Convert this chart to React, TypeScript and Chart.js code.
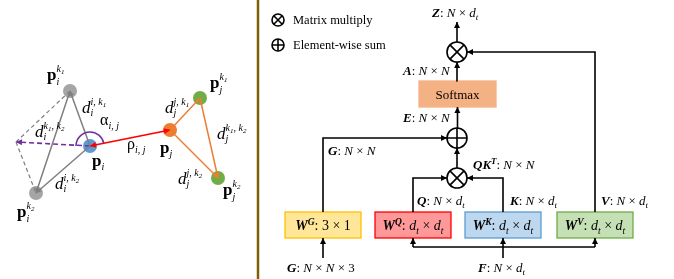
import React, { useEffect, useRef } from 'react';
import { Chart, registerables } from 'chart.js';
Chart.register(...registerables);

const W = 674;
const H = 279;
const SERIF = '"Liberation Serif", "Times New Roman", serif';

// ---------- left: relation graph ----------
const nodeNames = ['p_i', 'p_i^k1', 'p_i^k2', 'p_j', 'p_j^k1', 'p_j^k2', 'virtual'];
const nodeX = [90, 70, 36, 170, 200, 218, 16];
const nodeY = [146, 91, 193, 130, 98, 178, 142];
const nodeColor = ['#5B9BD5', '#A5A5A5', '#A5A5A5', '#ED7D31', '#70AD47', '#70AD47', 'rgba(0,0,0,0)'];
const nodeRadius = [7, 7, 7, 7, 7, 7, 0];

const grayEdges = [[0, 1], [0, 2], [1, 2]];
const grayDashEdges = [[6, 1], [6, 2]];
const orangeEdges = [[3, 4], [3, 5], [4, 5]];
const purpleEdge = [0, 6];
const redEdge = [0, 3];

const leftLabelKey = ['pik1', 'dik1', 'alpha', 'dik1k2', 'pi', 'rho', 'dik2', 'pik2', 'djk1', 'pjk1', 'djk1k2', 'pj', 'djk2', 'pjk2'];
const leftLabelX = [47, 82, 100, 35, 92, 127, 55, 17, 165, 210, 217, 160, 178, 223];
const leftLabelY = [80, 113, 125, 137, 166, 149, 189, 217, 113, 88, 139, 153, 184, 195];

// ---------- right: attention block ----------
const separatorX = 258;
const boxNames = ['Softmax', 'G', 'Q', 'K', 'V'];
const boxX0 = [419, 285, 375, 465, 557];
const boxX1 = [496, 361, 451, 541, 633];
const boxY0 = [81, 212, 212, 212, 212];
const boxY1 = [107, 238, 238, 238, 238];
const boxDims = ['', '3×1', 'd×d', 'd×d', 'd×d'];
const boxFill = ['#F4B183', '#FFE699', '#FF9999', '#BDD7EE', '#C5E0B4'];
const boxStroke = ['#F4B183', '#FFC000', '#FF0000', '#5B9BD5', '#70AD47'];

const opKind = ['mul', 'sum', 'mul', 'mul', 'sum'];
const opX = [457, 457, 457, 278, 278];
const opY = [52, 138, 178, 20, 45];
const opR = [10, 10, 10, 6, 6];

const outputY = 22;
const inputY = 258;
const busY = 247;

const flowVar = ['Z', 'A', 'E', 'G', 'QK', 'Q', 'K', 'V', 'G', 'F'];
const flowDim = ['N×d', 'N×N', 'N×N', 'N×N', 'N×N', 'N×d', 'N×d', 'N×d', 'N×N×3', 'N×d'];
const flowLabelX = [432, 403, 403, 328, 473, 417, 510, 601, 287, 478];
const flowLabelY = [17, 75, 122, 155, 169, 205, 205, 205, 272, 272];

const legendText = ['Matrix multiply', 'Element-wise sum'];

type Seg = { t: string; f?: string; s: number; dy?: number; mark?: boolean; stack?: boolean; after?: boolean };

function drawRich(ctx: CanvasRenderingContext2D, x: number, y: number, segs: Seg[], align = 'left') {
  const placed: { sg: Seg; x: number; font: string }[] = [];
  let cx = 0, mark = 0, maxX = 0;
  for (const sg of segs) {
    const font = `${sg.f ?? 'normal'} ${sg.s}px ${SERIF}`;
    ctx.font = font;
    if (sg.after) cx = maxX;
    if (sg.mark) mark = cx;
    if (sg.stack) cx = mark;
    placed.push({ sg, x: cx, font });
    cx += ctx.measureText(sg.t).width;
    maxX = Math.max(maxX, cx);
  }
  const off = align === 'center' ? -maxX / 2 : 0;
  ctx.textBaseline = 'alphabetic';
  ctx.textAlign = 'left';
  for (const p of placed) {
    ctx.font = p.font;
    ctx.fillText(p.sg.t, x + off + p.x, y + (p.sg.dy ?? 0));
  }
}

function supParts(parts: string[], size: number, dy: number): Seg[] {
  const out: Seg[] = [];
  parts.forEach((p, i) => {
    if (i % 2 === 0) out.push({ t: p, f: 'italic', s: size, dy, mark: i === 0 });
    else out.push({ t: p, f: 'italic', s: size * 0.7, dy: dy + 2 });
  });
  return out;
}

function pLabel(sub: string, supK?: string): Seg[] {
  const segs: Seg[] = [{ t: 'p', f: 'bold', s: 17 }];
  if (supK) {
    segs.push(...supParts(['k', supK], 10, -8));
    segs.push({ t: sub, f: 'italic', s: 10, dy: 5, stack: true });
  } else {
    segs.push({ t: sub, f: 'italic', s: 10, dy: 4 });
  }
  return segs;
}

function dLabel(sub: string, sup: string[]): Seg[] {
  return [{ t: 'd', f: 'italic', s: 17 }, ...supParts(sup, 10, -8), { t: sub, f: 'italic', s: 10, dy: 3, stack: true }];
}

function greekLabel(g: string): Seg[] {
  return [{ t: g, s: 16 }, { t: 'i, j', f: 'italic', s: 10, dy: 4 }];
}

const leftLabelSegs: Record<string, Seg[]> = {
  pik1: pLabel('i', '1'),
  dik1: dLabel('i', ['i, k', '1']),
  alpha: greekLabel('α'),
  dik1k2: dLabel('i', ['k', '1', ', k', '2']),
  pi: pLabel('i'),
  rho: greekLabel('ρ'),
  dik2: dLabel('i', ['i, k', '2']),
  pik2: pLabel('i', '2'),
  djk1: dLabel('j', ['j, k', '1']),
  pjk1: pLabel('j', '1'),
  djk1k2: dLabel('j', ['k', '1', ', k', '2']),
  pj: pLabel('j'),
  djk2: dLabel('j', ['j, k', '2']),
  pjk2: pLabel('j', '2'),
};

function dimSegs(dim: string, size: number): Seg[] {
  const out: Seg[] = [];
  for (const ch of dim) {
    if (ch === '×') out.push({ t: ' × ', s: size });
    else if (ch === 'd') {
      out.push({ t: 'd', f: 'italic', s: size });
      out.push({ t: 't', f: 'italic', s: size * 0.68, dy: size * 0.25 });
    } else if (ch === 'N') out.push({ t: 'N', f: 'italic', s: size });
    else out.push({ t: ch, s: size });
  }
  return out;
}

function flowSegs(v: string, dim: string): Seg[] {
  const size = 13;
  const segs: Seg[] = [{ t: v, f: 'italic bold', s: size }];
  if (v === 'QK') segs.push({ t: 'T', f: 'italic bold', s: size * 0.68, dy: -5 });
  segs.push({ t: ': ', s: size });
  return segs.concat(dimSegs(dim, size));
}

function boxSegs(letter: string, dim: string): Seg[] {
  const size = 14;
  return [
    { t: 'W', f: 'italic bold', s: size },
    { t: letter, f: 'italic bold', s: size * 0.68, dy: -5 },
    { t: ': ', s: size },
    ...dimSegs(dim, size),
  ];
}

function lineDs(pts: number[][], color: string, width: number, extra: any = {}) {
  return {
    data: pts.map(([x, y]) => ({ x, y })),
    showLine: true,
    borderColor: color,
    backgroundColor: color,
    borderWidth: width,
    pointRadius: 0,
    pointHoverRadius: 0,
    fill: false,
    tension: 0,
    clip: false,
    order: 1,
    ...extra,
  };
}

function arrowHead(ctx: CanvasRenderingContext2D, x1: number, y1: number, x2: number, y2: number, len: number, hw: number, color: string) {
  const a = Math.atan2(y2 - y1, x2 - x1);
  const c = Math.cos(a), s = Math.sin(a);
  ctx.beginPath();
  ctx.moveTo(x2, y2);
  ctx.lineTo(x2 - len * c + hw * s, y2 - len * s - hw * c);
  ctx.lineTo(x2 - len * c - hw * s, y2 - len * s + hw * c);
  ctx.closePath();
  ctx.fillStyle = color;
  ctx.fill();
}

const diagramPlugin = {
  id: 'diagram',
  beforeDatasetsDraw(chart: any) {
    const ctx: CanvasRenderingContext2D = chart.ctx;
    const xs = chart.scales.x, ys = chart.scales.y;
    ctx.save();
    boxNames.forEach((n, i) => {
      const x0 = xs.getPixelForValue(boxX0[i]);
      const x1 = xs.getPixelForValue(boxX1[i]);
      const y0 = ys.getPixelForValue(boxY0[i]);
      const y1 = ys.getPixelForValue(boxY1[i]);
      ctx.fillStyle = boxFill[i];
      ctx.fillRect(x0, y0, x1 - x0, y1 - y0);
      ctx.strokeStyle = boxStroke[i];
      ctx.lineWidth = 1.3;
      ctx.strokeRect(x0, y0, x1 - x0, y1 - y0);
    });
    ctx.restore();
  },
  afterDatasetsDraw(chart: any) {
    const ctx: CanvasRenderingContext2D = chart.ctx;
    const xs = chart.scales.x, ys = chart.scales.y;
    ctx.save();
    chart.data.datasets.forEach((ds: any, i: number) => {
      if (!ds.arrowEnd && !ds.arrowStart) return;
      const pts = chart.getDatasetMeta(i).data;
      const len = ds.arrowLen ?? 6, hw = ds.arrowHW ?? 3;
      if (ds.arrowEnd) {
        const a = pts[pts.length - 2], b = pts[pts.length - 1];
        arrowHead(ctx, a.x, a.y, b.x, b.y, len, hw, ds.borderColor);
      }
      if (ds.arrowStart) {
        const a = pts[1], b = pts[0];
        arrowHead(ctx, a.x, a.y, b.x, b.y, len, hw, ds.borderColor);
      }
    });
    const pi = [xs.getPixelForValue(nodeX[0]), ys.getPixelForValue(nodeY[0])];
    const pj = [xs.getPixelForValue(nodeX[3]), ys.getPixelForValue(nodeY[3])];
    const ang = Math.atan2(pj[1] - pi[1], pj[0] - pi[0]);
    ctx.beginPath();
    ctx.strokeStyle = '#7030A0';
    ctx.lineWidth = 1.5;
    ctx.arc(pi[0], pi[1], 14, Math.PI, ang + 2 * Math.PI, false);
    ctx.stroke();
    ctx.restore();
  },
  afterDraw(chart: any) {
    const ctx: CanvasRenderingContext2D = chart.ctx;
    const xs = chart.scales.x, ys = chart.scales.y;
    ctx.save();
    ctx.fillStyle = '#000';
    leftLabelKey.forEach((k, i) => {
      drawRich(ctx, xs.getPixelForValue(leftLabelX[i]), ys.getPixelForValue(leftLabelY[i]), leftLabelSegs[k]);
    });
    legendText.forEach((t, i) => {
      drawRich(ctx, xs.getPixelForValue(opX[3 + i] + 15), ys.getPixelForValue(opY[3 + i] + 4), [{ t, s: 12.5 }]);
    });
    flowVar.forEach((v, i) => {
      drawRich(ctx, xs.getPixelForValue(flowLabelX[i]), ys.getPixelForValue(flowLabelY[i]), flowSegs(v, flowDim[i]));
    });
    boxNames.forEach((n, i) => {
      const cx = xs.getPixelForValue((boxX0[i] + boxX1[i]) / 2);
      const cy = ys.getPixelForValue((boxY0[i] + boxY1[i]) / 2);
      if (i === 0) drawRich(ctx, cx, cy + 4.5, [{ t: 'Softmax', s: 13 }], 'center');
      else drawRich(ctx, cx, cy + 5, boxSegs(n, boxDims[i]), 'center');
    });
    ctx.restore();
  },
};

function buildDatasets() {
  const ds: any[] = [];
  const P = (i: number) => [nodeX[i], nodeY[i]];
  ds.push(lineDs([[separatorX, 0], [separatorX, H]], '#7F6000', 2.5));
  grayDashEdges.forEach(([a, b]) => ds.push(lineDs([P(a), P(b)], '#7F7F7F', 1.2, { borderDash: [4, 3] })));
  grayEdges.forEach(([a, b]) => ds.push(lineDs([P(a), P(b)], '#7F7F7F', 1.5, { arrowEnd: true, arrowLen: 5, arrowHW: 2.5 })));
  orangeEdges.forEach(([a, b]) => ds.push(lineDs([P(a), P(b)], '#ED7D31', 1.5, { arrowEnd: true, arrowLen: 5, arrowHW: 2.5 })));
  ds.push(lineDs([P(purpleEdge[0]), P(purpleEdge[1])], '#7030A0', 1.6, { borderDash: [5, 3], arrowEnd: true, arrowLen: 6, arrowHW: 3 }));
  ds.push(lineDs([P(redEdge[0]), P(redEdge[1])], '#FF0000', 1.6, { arrowEnd: true, arrowStart: true, arrowLen: 6, arrowHW: 3 }));
  ds.push({
    data: nodeX.map((x, i) => ({ x, y: nodeY[i] })),
    showLine: false,
    pointRadius: nodeRadius,
    pointHoverRadius: nodeRadius,
    pointBackgroundColor: nodeColor,
    pointBorderWidth: 0,
    pointBorderColor: nodeColor,
    clip: false,
    order: 5,
  });
  const bx = (i: number) => (boxX0[i] + boxX1[i]) / 2;
  const [mulTop, sumMid, mulLow] = [0, 1, 2];
  const flows: number[][][] = [
    [[opX[mulTop], opY[mulTop] - opR[mulTop]], [opX[mulTop], outputY]],
    [[bx(0), boxY0[0]], [opX[mulTop], opY[mulTop] + opR[mulTop]]],
    [[opX[sumMid], opY[sumMid] - opR[sumMid]], [bx(0), boxY1[0]]],
    [[opX[mulLow], opY[mulLow] - opR[mulLow]], [opX[sumMid], opY[sumMid] + opR[sumMid]]],
    [[bx(1), boxY0[1]], [bx(1), opY[sumMid]], [opX[sumMid] - opR[sumMid], opY[sumMid]]],
    [[bx(2), boxY0[2]], [bx(2), opY[mulLow]], [opX[mulLow] - opR[mulLow], opY[mulLow]]],
    [[bx(3), boxY0[3]], [bx(3), opY[mulLow]], [opX[mulLow] + opR[mulLow], opY[mulLow]]],
    [[bx(4), boxY0[4]], [bx(4), opY[mulTop]], [opX[mulTop] + opR[mulTop], opY[mulTop]]],
    [[bx(1), inputY], [bx(1), boxY1[1]]],
    [[bx(3), inputY], [bx(3), boxY1[3]]],
    [[bx(2), busY], [bx(2), boxY1[2]]],
    [[bx(4), busY], [bx(4), boxY1[4]]],
  ];
  flows.forEach((f) => ds.push(lineDs(f, '#000', 1.6, { arrowEnd: true, arrowLen: 6, arrowHW: 3 })));
  ds.push(lineDs([[bx(2), busY], [bx(4), busY]], '#000', 1.6));
  const opPts = opX.map((x, i) => ({ x, y: opY[i] }));
  ds.push({
    data: opPts, showLine: false, pointStyle: 'circle', pointRadius: opR, pointHoverRadius: opR,
    pointBackgroundColor: '#fff', pointBorderColor: '#000', pointBorderWidth: 1.6, clip: false, order: 0,
  });
  ds.push({
    data: opPts.filter((_, i) => opKind[i] === 'mul'), showLine: false, pointStyle: 'crossRot',
    pointRadius: opR.filter((_, i) => opKind[i] === 'mul'), pointHoverRadius: 0,
    pointBorderColor: '#000', pointBorderWidth: 1.6, clip: false, order: -1,
  });
  ds.push({
    data: opPts.filter((_, i) => opKind[i] === 'sum'), showLine: false, pointStyle: 'cross',
    pointRadius: opR.filter((_, i) => opKind[i] === 'sum'), pointHoverRadius: 0,
    pointBorderColor: '#000', pointBorderWidth: 1.6, clip: false, order: -1,
  });
  return ds;
}

export default function App() {
  const ref = useRef<HTMLCanvasElement>(null);
  useEffect(() => {
    document.body.style.margin = '0';
    document.body.style.background = '#fff';
    const chart = new Chart(ref.current!, {
      type: 'scatter',
      data: { datasets: buildDatasets() },
      options: {
        animation: false,
        responsive: false,
        devicePixelRatio: 1,
        events: [],
        layout: { padding: 0, autoPadding: false },
        plugins: { legend: { display: false }, tooltip: { enabled: false } },
        scales: {
          x: { type: 'linear', min: 0, max: W, display: false },
          y: { type: 'linear', min: 0, max: H, reverse: true, display: false },
        },
      },
      plugins: [diagramPlugin],
    } as any);
    return () => chart.destroy();
  }, []);
  return <canvas ref={ref} width={W} height={H} style={{ display: 'block', width: W, height: H }} />;
}
